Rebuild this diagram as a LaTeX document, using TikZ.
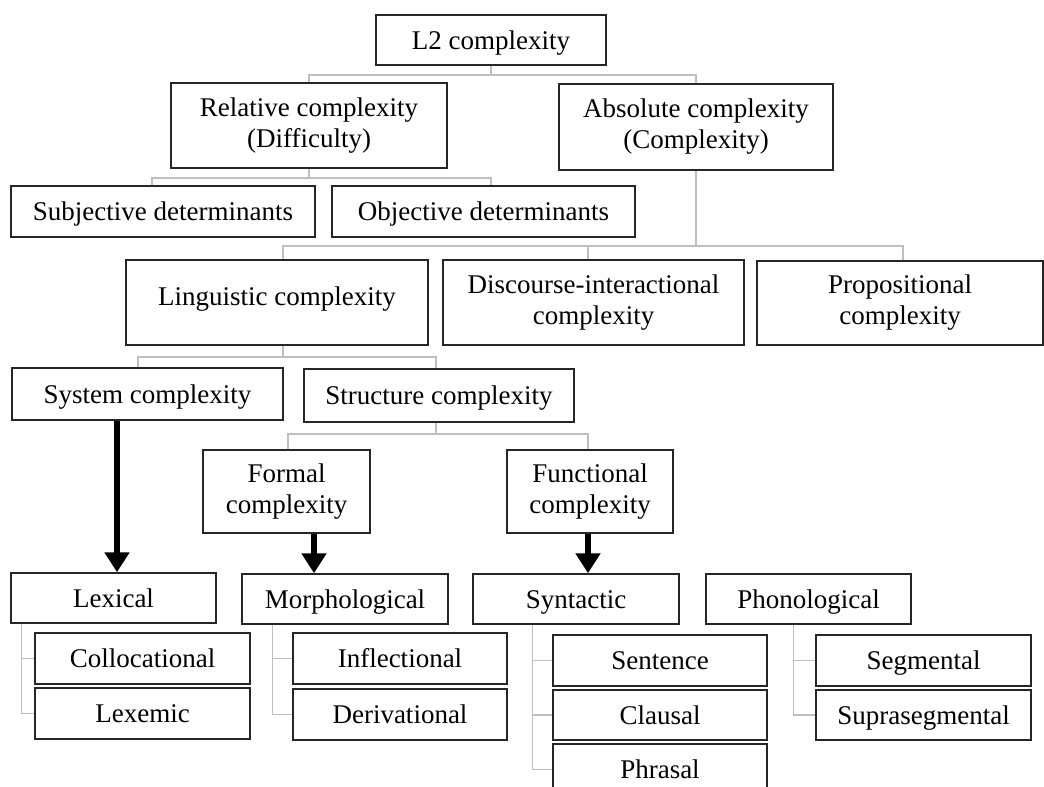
\documentclass[tikz,border=0pt]{standalone}
\usepackage{fontspec}
\setmainfont{Liberation Serif}
\usetikzlibrary{arrows.meta}
\newcommand\bx[7][]{\node[box,minimum width=#5pt,minimum height=#6pt,#1] (#2) at (#3,#4) {#7};}
\begin{document}
\begin{tikzpicture}[x=1pt,y=-1pt,
  box/.style={draw=black!85,line width=1.5pt,fill=white,inner sep=0pt,align=center,
    font=\fontsize{27}{31}\selectfont},
  one/.style={text height=20pt,text depth=2pt},
  conn/.style={draw=black!25,line width=1.5pt},
  bigarrow/.style={draw=black,line width=6pt,-{Triangle[width=24pt,length=20pt]}}]
\useasboundingbox (0,0) rectangle (1044,787);
% boxes: [options] name, cx, cy, w, h, text
\bx[one]{l2}{491}{40}{230}{50}{L2 complexity}
\bx{rel}{309}{125.5}{276}{85}{Relative complexity\\(Difficulty)}
\bx{abs}{696}{127}{274}{86}{Absolute complexity\\(Complexity)}
\bx[one]{sub}{163}{211.5}{304}{51}{Subjective determinants}
\bx[one]{obj}{483.5}{211.5}{303}{51}{Objective determinants}
\bx[text height=14pt,text depth=8pt]{ling}{277}{302.5}{302}{85}{Linguistic complexity}
\bx{disc}{593.5}{302.5}{301}{85}{Discourse-interactional\\complexity}
\bx{prop}{900}{303}{286}{84}{Propositional\\complexity}
\bx[one]{sys}{147.5}{394}{271}{52}{System complexity}
\bx[one]{str}{439}{395.5}{270}{53}{Structure complexity}
\bx{form}{286.5}{491.5}{167}{83}{Formal\\complexity}
\bx{func}{590}{491.5}{166}{83}{Functional\\complexity}
\bx[one]{lex}{113.5}{598}{205}{50}{Lexical}
\bx[one]{morph}{345}{599}{206}{50}{Morphological}
\bx[one]{syn}{576}{599}{206}{50}{Syntactic}
\bx[one]{phon}{808.5}{599}{205}{50}{Phonological}
\bx[one]{coll}{142.5}{658.5}{215}{51}{Collocational}
\bx[one]{lexe}{142.5}{713.5}{215}{51}{Lexemic}
\bx[one]{infl}{400}{658.5}{214}{51}{Inflectional}
\bx[one]{deriv}{400}{714.5}{214}{51}{Derivational}
\bx[one]{sent}{660}{660.5}{214}{51}{Sentence}
\bx[one]{claus}{660}{715}{214}{50}{Clausal}
\bx[one]{phras}{660}{769.5}{214}{51}{Phrasal}
\bx[one]{seg}{923.5}{660.5}{215}{51}{Segmental}
\bx[one]{supra}{923.5}{715}{215}{50}{Suprasegmental}
% junction points
\coordinate (j1) at (491,75);
\coordinate (j2) at (309,178);
\coordinate (j3) at (696,246);
\coordinate (j4) at (283,357);
\coordinate (j5) at (436,434);
% tree connectors
\draw[conn] (l2.south) -- (j1) -| (rel.north);
\draw[conn] (j1) -| (abs.north);
\draw[conn] (rel.south) -- (j2) -| ([xshift=-11pt]sub.north);
\draw[conn] (j2) -| ([xshift=7.5pt]obj.north);
\draw[conn] (abs.south) -- (j3) -| ([xshift=6pt]ling.north);
\draw[conn] (j3) -| ([xshift=-5.5pt]disc.north);
\draw[conn] (j3) -| ([xshift=3pt]prop.north);
\draw[conn] ([xshift=6pt]ling.south) -- (j4) -| ([xshift=-9.5pt]sys.north);
\draw[conn] (j4) -| ([xshift=-3pt]str.north);
\draw[conn] ([xshift=-3pt]str.south) -- (j5) -| ([xshift=1.5pt]form.north);
\draw[conn] (j5) -| ([xshift=-2pt]func.north);
% list brackets
\draw[conn] ([xshift=11pt]lex.south west) |- (coll.west);
\draw[conn] ([xshift=11pt]lex.south west) |- (lexe.west);
\draw[conn] ([xshift=31pt]morph.south west) |- (infl.west);
\draw[conn] ([xshift=31pt]morph.south west) |- (deriv.west);
\draw[conn] ([xshift=60pt]syn.south west) |- (sent.west);
\draw[conn] ([xshift=60pt]syn.south west) |- (claus.west);
\draw[conn] ([xshift=60pt]syn.south west) |- (phras.west);
\draw[conn] ([xshift=88pt]phon.south west) |- (seg.west);
\draw[conn] ([xshift=88pt]phon.south west) |- (supra.west);
% bold arrows
\draw[bigarrow] ([xshift=3.5pt]sys.south -| lex.north) -- ([xshift=3.5pt]lex.north);
\draw[bigarrow] ([xshift=27.5pt]form.south) -- ([xshift=-31pt]morph.north);
\draw[bigarrow] ([xshift=-2pt]func.south) -- ([xshift=12pt]syn.north);
\end{tikzpicture}
\end{document}
